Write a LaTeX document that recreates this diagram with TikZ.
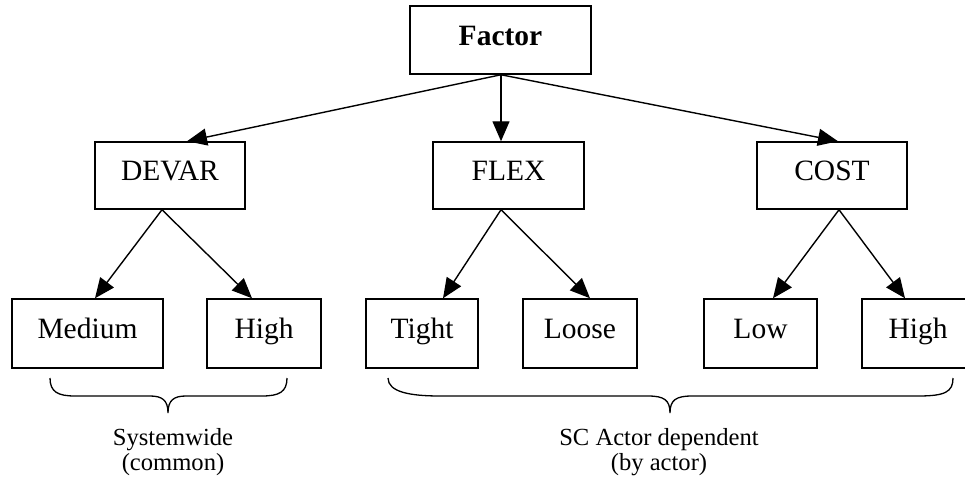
\documentclass[tikz,border=0pt]{standalone}
\usepackage{fontspec}
\setmainfont{Liberation Serif}
\usetikzlibrary{arrows.meta}
\tikzset{
  box/.style={draw, line width=1.5pt, inner sep=0pt, text height=20pt, text depth=10pt,
    font=\fontsize{29.5}{32}\selectfont},
  conn/.style={line width=1.4pt, -{Triangle[length=20pt,width=17pt]}},
  brace/.style={line width=1.3pt},
  lbl/.style={inner sep=0pt, align=center, anchor=north, font=\fontsize{24.6}{25}\selectfont}
}
\begin{document}
\begin{tikzpicture}[x=1pt,y=-1pt]
\useasboundingbox (0,0) rectangle (965,479);
\node[box, minimum width=181pt, minimum height=68pt] (factor) at (500.5,40) {\textbf{Factor}};
\node[box, minimum width=150pt, minimum height=67pt] (devar) at (170,175.5) {DEVAR};
\node[box, minimum width=151pt, minimum height=67pt] (flex) at (508.5,175.5) {FLEX};
\node[box, minimum width=150pt, minimum height=67pt] (cost) at (832,175.5) {COST};
\node[box, minimum width=151pt, minimum height=69pt] (medium) at (87.5,333.5) {Medium};
\node[box, minimum width=114pt, minimum height=69pt] (high) at (264,333.5) {High};
\node[box, minimum width=112pt, minimum height=69pt] (tight) at (422,333.5) {Tight};
\node[box, minimum width=114pt, minimum height=69pt] (loose) at (580,333.5) {Loose};
\node[box, minimum width=113pt, minimum height=69pt] (low) at (760.5,333.5) {Low};
\node[box, minimum width=112pt, minimum height=69pt] (hightwo) at (918,333.5) {High};

\draw[conn] ([xshift=0.5pt]factor.south) -- ([xshift=17pt]devar.north);
\draw[conn] ([xshift=0.5pt]factor.south) -- ([xshift=-7.5pt]flex.north);
\draw[conn] ([xshift=0.5pt]factor.south) -- ([xshift=6pt]cost.north);
\draw[conn] ([xshift=-8pt]devar.south) -- ([xshift=7.5pt]medium.north);
\draw[conn] ([xshift=-8pt]devar.south) -- ([xshift=-12pt]high.north);
\draw[conn] ([xshift=-7.5pt]flex.south) -- ([xshift=21pt]tight.north);
\draw[conn] ([xshift=-7.5pt]flex.south) -- ([xshift=10pt]loose.north);
\draw[conn] ([xshift=7pt]cost.south) -- ([xshift=12.5pt]low.north);
\draw[conn] ([xshift=7pt]cost.south) -- ([xshift=-13pt]hightwo.north);

\draw[brace] (50,378) .. controls (50,392) and (58,396) .. (75,396) -- (150,396)
  .. controls (162,396) and (168,400) .. (168,413)
  .. controls (168,400) and (174,396) .. (186,396) -- (262,396)
  .. controls (279,396) and (287,392) .. (287,378);
\draw[brace] (388,378) .. controls (388,392) and (410,396) .. (440,396) -- (648,396)
  .. controls (664,396) and (670,400) .. (670,413)
  .. controls (670,400) and (676,396) .. (692,396) -- (918,396)
  .. controls (945,396) and (953,392) .. (953,378);

\node[lbl] (sys) at (173,428) {Systemwide\\(common)};
\node[lbl] (sc) at (659,428) {SC Actor dependent\\(by actor)};
\end{tikzpicture}
\end{document}
